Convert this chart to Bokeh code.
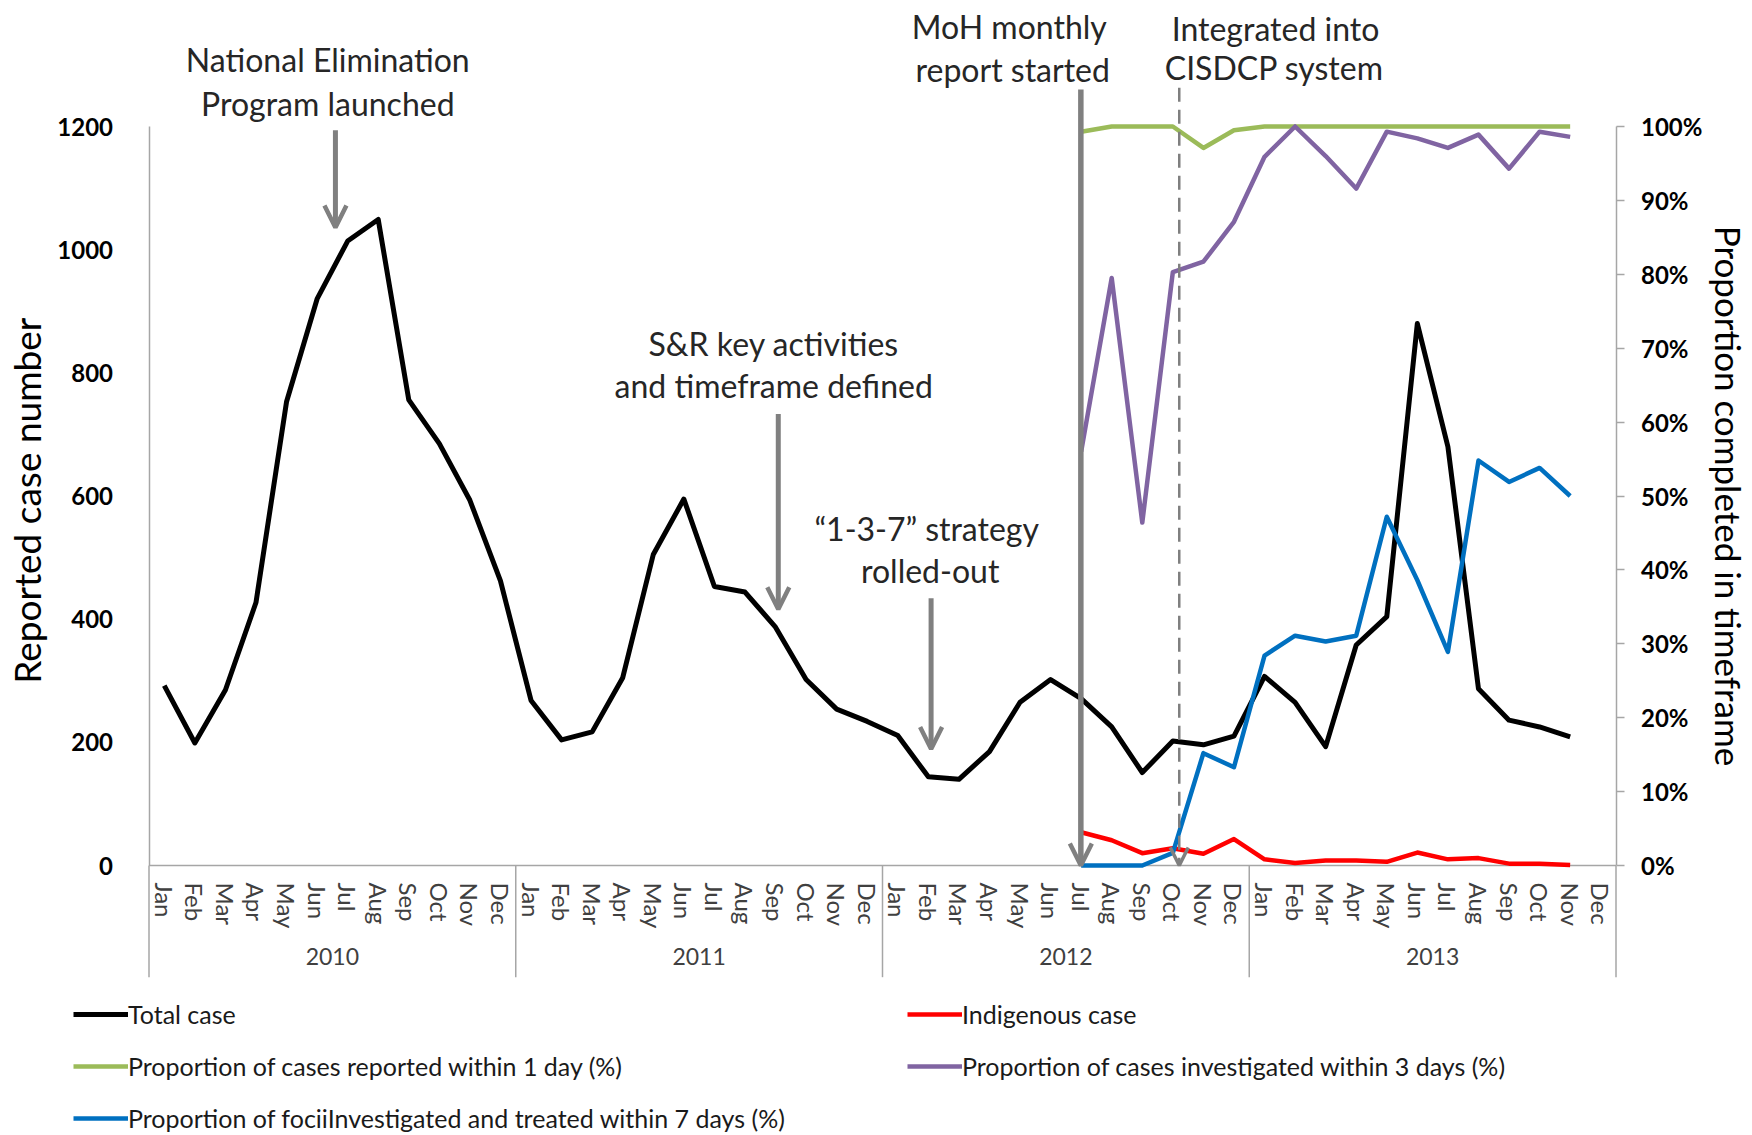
from bokeh.plotting import figure
from bokeh.models import (FactorRange, Range1d, LinearAxis, FixedTicker, PrintfTickFormatter,
                          Arrow, OpenHead, Label, Legend, LegendItem, ColumnDataSource)
from bokeh.embed import file_html
from bokeh.resources import INLINE

# ---------------- data ----------------
years = ["2010", "2011", "2012", "2013"]
months = ["Jan", "Feb", "Mar", "Apr", "May", "Jun", "Jul", "Aug", "Sep", "Oct", "Nov", "Dec"]

# Jan 2010 .. Nov 2013
total_case = [292, 199, 285, 427, 753, 920, 1014, 1049, 756, 685, 593, 462,
              268, 204, 217, 305, 505, 595, 453, 444, 387, 302, 254, 234,
              211, 144, 140, 185, 265, 302, 271, 225, 151, 202, 196, 210,
              307, 265, 193, 358, 404, 880, 680, 287, 236, 225, 209]
# Jul 2012 .. Nov 2013
indigenous_case = [54, 41, 20, 28, 19, 43, 10, 4, 8, 8, 6, 21, 10, 12, 3, 3, 1]
reported_1day = [99.3, 100, 100, 100, 97.1, 99.5, 100, 100, 100, 100, 100, 100, 100, 100, 100, 100, 100]
investigated_3days = [56, 79.5, 46.4, 80.3, 81.7, 87.1, 95.9, 100, 96, 91.6, 99.3, 98.4, 97.1, 98.9, 94.3, 99.3, 98.6]
foci_7days = [0, 0, 0, 1.7, 15.2, 13.3, 28.4, 31.1, 30.3, 31.1, 47.2, 38.6, 28.9, 54.8, 51.9, 53.8, 50]

left_ticks = [0, 200, 400, 600, 800, 1000, 1200]
right_ticks = [0, 10, 20, 30, 40, 50, 60, 70, 80, 90, 100]

series_names = ["Total case", "Indigenous case",
                "Proportion of cases reported within 1 day (%)",
                "Proportion of cases investigated within 3 days (%)",
                "Proportion of fociiInvestigated and treated within 7 days (%)"]

# ---------------- layout constants (pixels) ----------------
W, H = 1752, 1135
BORDER_L = 12
X_AXIS0, X_AXIS48 = 148.6, 1615.6          # pixel of left / right value axes
Y_BASE, Y_TOP = 865.0, 126.0               # pixel of 0 and of 1200 (100 %)
LEFT_MAX, PCT_MAX = 1200.0, 100.0

n_m = len(months)
factors = [(y, m) for y in years for m in months]
n_f = len(factors)
unit = (X_AXIS48 - X_AXIS0) / n_f
pad_side = ((X_AXIS0 - BORDER_L) / unit + (W - X_AXIS48) / unit) / 2.0
k = (Y_BASE - Y_TOP) / LEFT_MAX            # px per case
y_hi = Y_BASE / k
y_lo = -(H - Y_BASE) / k
ratio = LEFT_MAX / PCT_MAX
y_sep = -(976.7 - Y_BASE) / k              # bottom of separators

n_total = len(total_case)
start_late = n_total - len(indigenous_case)
x_total = factors[:n_total]
x_late = factors[start_late:n_total]

FONT = "Lato"
GRAY = "#808080"
AXGRAY = "#a6a6a6"

p = figure(width=W, height=H,
           x_range=FactorRange(factors=factors, factor_padding=0, group_padding=0,
                               range_padding=pad_side, range_padding_units="absolute"),
           y_range=Range1d(y_lo, y_hi),
           output_backend="svg", toolbar_location=None,
           min_border=0, min_border_left=BORDER_L, min_border_right=0,
           min_border_top=0, min_border_bottom=0)
p.extra_y_ranges = {"pct": Range1d(y_lo / ratio, y_hi / ratio)}
p.outline_line_color = None
p.xgrid.grid_line_color = None
p.ygrid.grid_line_color = None
p.background_fill_color = "white"
p.border_fill_color = "white"

# x axis (nested categorical) fixed at the zero line
xa = p.xaxis[0]
xa.fixed_location = 0
xa.major_label_orientation = "vertical"
xa.major_label_text_font = FONT
xa.major_label_text_font_size = "24px"
xa.major_label_text_color = "#404040"
xa.major_tick_line_color = None
xa.major_tick_out = 0
xa.major_tick_in = 0
xa.minor_tick_line_color = None
xa.major_label_standoff = 17
xa.group_text_font = FONT
xa.group_text_font_size = "23px"
xa.group_text_font_style = "normal"
xa.group_text_color = "#404040"
xa.separator_line_color = None
xa.axis_line_color = None

# left axis
ya = p.yaxis[0]
ya.fixed_location = 0
ya.bounds = (0, LEFT_MAX)
ya.ticker = FixedTicker(ticks=left_ticks)
ya.axis_line_color = AXGRAY
ya.axis_line_width = 1.5
ya.major_tick_line_color = None
ya.major_tick_out = 0
ya.major_tick_in = 0
ya.minor_tick_line_color = None
ya.major_label_text_font = FONT
ya.major_label_text_font_style = "bold"
ya.major_label_text_font_size = "24px"
ya.major_label_text_color = "black"
ya.major_label_standoff = 36
ya.axis_label = "Reported  case number"
ya.axis_label_text_font = FONT
ya.axis_label_text_font_size = "37px"
ya.axis_label_text_font_style = "normal"
ya.axis_label_text_color = "black"
ya.axis_label_standoff = 6

# right axis
ra = LinearAxis(y_range_name="pct", ticker=FixedTicker(ticks=right_ticks),
                formatter=PrintfTickFormatter(format="%d%%"),
                axis_label="Proportion completed in timeframe")
ra.fixed_location = n_f
ra.bounds = (0, PCT_MAX)
ra.axis_line_color = AXGRAY
ra.axis_line_width = 1.5
ra.major_tick_line_color = AXGRAY
ra.major_tick_line_width = 1.5
ra.major_tick_out = 8
ra.major_tick_in = 0
ra.minor_tick_line_color = None
ra.major_label_text_font = FONT
ra.major_label_text_font_style = "bold"
ra.major_label_text_font_size = "24px"
ra.major_label_text_color = "black"
ra.major_label_standoff = 17
ra.axis_label_text_font = FONT
ra.axis_label_text_font_size = "35px"
ra.axis_label_text_font_style = "normal"
ra.axis_label_text_color = "black"
ra.axis_label_standoff = 2
p.add_layout(ra, "right")

# baseline and year separators / axis extensions below the baseline
sep_x = [i * n_m for i in range(len(years) + 1)]
p.segment(x0=[0], y0=[0], x1=[n_f], y1=[0], line_color=AXGRAY, line_width=1.5)
p.segment(x0=sep_x, y0=[0] * len(sep_x), x1=sep_x, y1=[y_sep] * len(sep_x),
          line_color=AXGRAY, line_width=1.5)

# ---------------- lines ----------------
src_total = ColumnDataSource(dict(x=x_total, y=total_case))
src_ind = ColumnDataSource(dict(x=x_late, y=indigenous_case))
src_rep = ColumnDataSource(dict(x=x_late, y=reported_1day))
src_inv = ColumnDataSource(dict(x=x_late, y=investigated_3days))
src_foc = ColumnDataSource(dict(x=x_late, y=foci_7days))

r_total = p.line("x", "y", source=src_total, line_color="black", line_width=5, line_join="round")
r_ind = p.line("x", "y", source=src_ind, line_color="#ff0000", line_width=4.5, line_join="round")
r_rep = p.line("x", "y", source=src_rep, y_range_name="pct", line_color="#9bbb59", line_width=4.5, line_join="round")
r_inv = p.line("x", "y", source=src_inv, y_range_name="pct", line_color="#8064a2", line_width=4.5, line_join="round")
r_foc = p.line("x", "y", source=src_foc, y_range_name="pct", line_color="#0070c0", line_width=4.5, line_join="round")

# ---------------- annotations ----------------
def head(sz=22, lw=4.5, col=GRAY):
    return OpenHead(size=sz, line_color=col, line_width=lw)

p.add_layout(Arrow(x_start=6.1, y_start=1194, x_end=6.1, y_end=1036, end=head(), line_color=GRAY, line_width=5))
p.add_layout(Arrow(x_start=20.59, y_start=733, x_end=20.59, y_end=416, end=head(), line_color=GRAY, line_width=5))
p.add_layout(Arrow(x_start=25.59, y_start=434, x_end=25.59, y_end=189, end=head(), line_color=GRAY, line_width=5))
p.add_layout(Arrow(x_start=30.49, y_start=1260, x_end=30.49, y_end=0, end=head(), line_color=GRAY, line_width=5.5))
p.add_layout(Arrow(x_start=33.71, y_start=1263, x_end=33.71, y_end=0, end=head(18, 3.5, "#7f7f7f"),
                   line_color="#7f7f7f", line_width=2.5, line_dash="14 8"))

def note(x, y, txt):
    p.add_layout(Label(x=x, y=y, text=txt, text_align="center", text_baseline="middle",
                       text_font=FONT, text_font_size="32px", text_color="#262626"))

note(5.85, 1308, "National Elimination")
note(5.85, 1238, "Program launched")
note(20.44, 848, "S&R key activities")
note(20.44, 779, "and timeframe defined")
note(25.45, 548, "\u201c1-3-7\u201d strategy")
note(25.56, 479, "rolled-out")
note(28.15, 1363, "MoH monthly")
note(28.26, 1292, "report started")
note(36.86, 1359, "Integrated into")
note(36.82, 1296, "CISDCP system")

# ---------------- legend ----------------
legend = Legend(items=[LegendItem(label=series_names[0], renderers=[r_total]),
                       LegendItem(label=series_names[1], renderers=[r_ind]),
                       LegendItem(label=series_names[2], renderers=[r_rep]),
                       LegendItem(label=series_names[3], renderers=[r_inv]),
                       LegendItem(label=series_names[4], renderers=[r_foc])],
                location=(73 - BORDER_L, 2), orientation="horizontal", ncols=2,
                glyph_width=55, glyph_height=30, label_height=30, label_standoff=0, label_width=757,
                spacing=22, padding=0, margin=0,
                border_line_color=None, background_fill_alpha=0,
                label_text_font=FONT, label_text_font_size="25px", label_text_color="#1a1a1a")
p.add_layout(legend, "center")

open("out.html", "w").write(file_html(p, INLINE))
